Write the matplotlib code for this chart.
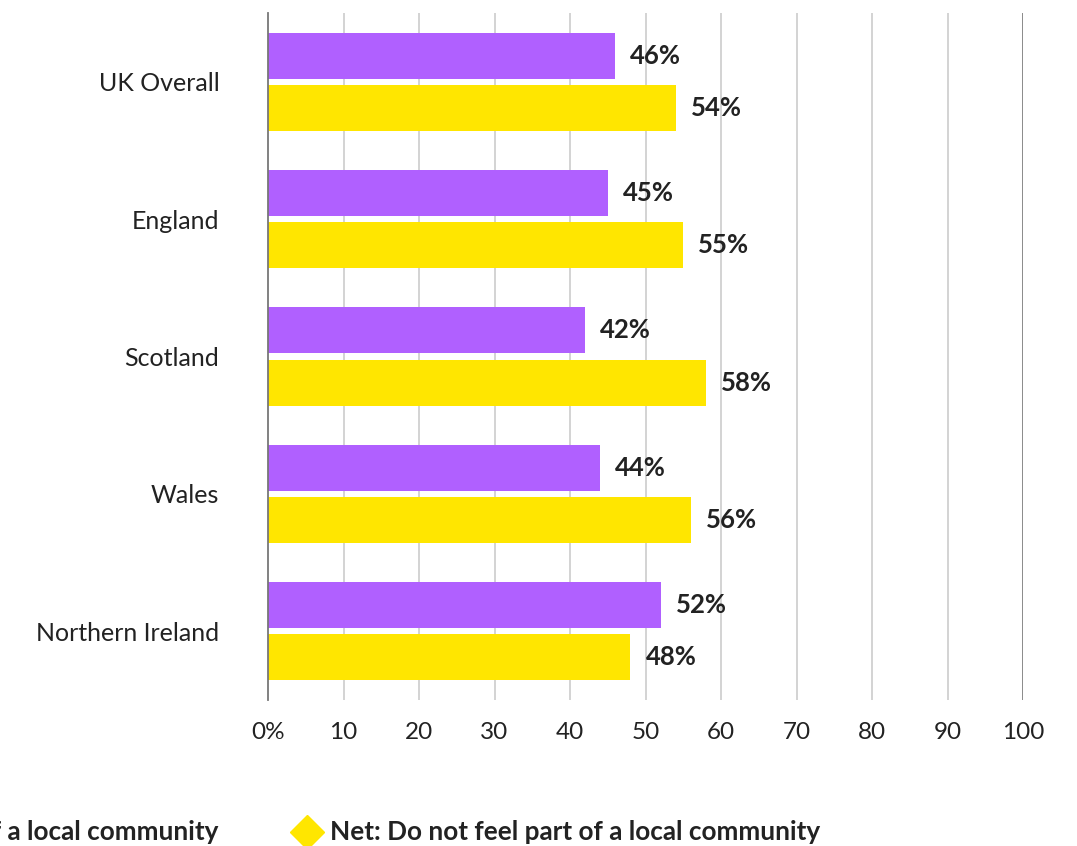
import matplotlib
matplotlib.use("Agg")
import matplotlib.pyplot as plt
import numpy as np

regions = ["UK Overall", "England", "Scotland", "Wales", "Northern Ireland"]
feel_part = [46, 45, 42, 44, 52]
not_feel_part = [54, 55, 58, 56, 48]
x_ticks = [0, 10, 20, 30, 40, 50, 60, 70, 80, 90, 100]
x_tick_labels = ["0%", "10", "20", "30", "40", "50", "60", "70", "80", "90", "100"]
series_names = ["Net: Feel part of a local community",
                "Net: Do not feel part of a local community"]

PURPLE = "#B060FF"
YELLOW = "#FFE600"
TEXT = "#222222"

plt.rcParams["font.family"] = ["Lato", "DejaVu Sans"]

W, H = 1077, 846
fig = plt.figure(figsize=(W / 100, H / 100), dpi=100)
ax = fig.add_axes([268 / W, 1 - 700 / H, (1023 - 268) / W, (700 - 13) / H])

y = np.arange(len(regions))
bh = 0.335
off = 0.19
ax.barh(y - off, feel_part, height=bh, color=PURPLE, zorder=3)
ax.barh(y + off, not_feel_part, height=bh, color=YELLOW, zorder=3)

for yi, v in zip(y, feel_part):
    ax.text(v + 2, yi - off, f"{v}%", va="center", ha="left",
            fontsize=18.5, fontweight="bold", color=TEXT)
for yi, v in zip(y, not_feel_part):
    ax.text(v + 2, yi + off, f"{v}%", va="center", ha="left",
            fontsize=18.5, fontweight="bold", color=TEXT)

ax.set_xlim(0, 100)
ax.set_ylim(len(regions) - 0.5, -0.5)
ax.set_xticks(x_ticks)
ax.set_xticklabels(x_tick_labels)
ax.set_yticks(y)
ax.set_yticklabels(regions)
ax.tick_params(axis="both", length=0, labelcolor=TEXT)
ax.tick_params(axis="x", pad=16, labelsize=17.5)
ax.tick_params(axis="y", pad=35, labelsize=18)

for s in ["top", "right", "bottom"]:
    ax.spines[s].set_visible(False)
ax.spines["left"].set_color("#777777")
ax.spines["left"].set_linewidth(1.3)
ax.spines["left"].set_zorder(4)

for t in x_ticks[1:]:
    c = "#777777" if t == 100 else "#cccccc"
    ax.axvline(t, color=c, lw=1.2, zorder=1)

# legend row along the bottom
ly = 1 - 832 / H
fig.text(218 / W, ly, series_names[0], ha="right", va="center",
         fontsize=18.8, fontweight="bold", color=TEXT)
fig.text(330 / W, ly, series_names[1], ha="left", va="center",
         fontsize=18.8, fontweight="bold", color=TEXT)
fig.add_artist(plt.Line2D([307 / W], [ly], marker="D", markersize=17,
                          color=YELLOW, transform=fig.transFigure))

fig.savefig("out.png", dpi=100)
